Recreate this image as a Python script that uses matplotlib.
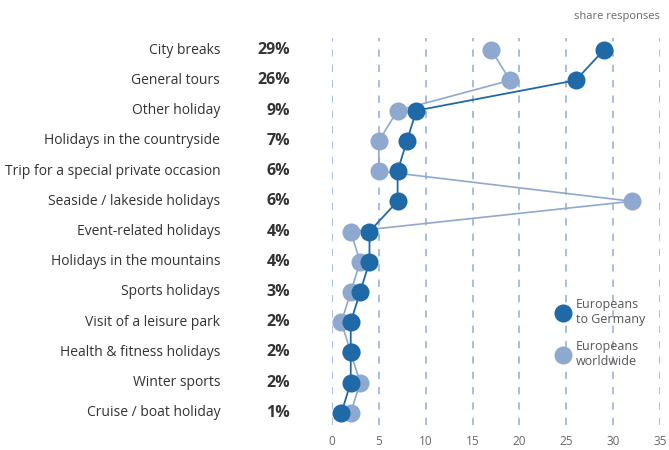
import matplotlib
matplotlib.use("Agg")
import matplotlib.pyplot as plt
from matplotlib.lines import Line2D
import matplotlib.transforms as mtransforms

plt.rcParams["font.family"] = ["Open Sans", "DejaVu Sans"]

categories = [
    "City breaks",
    "General tours",
    "Other holiday",
    "Holidays in the countryside",
    "Trip for a special private occasion",
    "Seaside / lakeside holidays",
    "Event-related holidays",
    "Holidays in the mountains",
    "Sports holidays",
    "Visit of a leisure park",
    "Health & fitness holidays",
    "Winter sports",
    "Cruise / boat holiday",
]
share_labels = ["29%", "26%", "9%", "7%", "6%", "6%", "4%", "4%", "3%", "2%", "2%", "2%", "1%"]
to_germany = [29, 26, 9, 8, 7, 7, 4, 4, 3, 2, 2, 2, 1]
worldwide = [17, 19, 7, 5, 5, 32, 2, 3, 2, 1, 2, 3, 2]
x_ticks = [0, 5, 10, 15, 20, 25, 30, 35]

DARK = "#1f69a6"
LIGHT = "#8fa8d0"
GRID = "#a3b8d8"
TEXT = "#333333"

fig = plt.figure(figsize=(6.69, 4.5), dpi=100)
ax = fig.add_axes([332 / 669, 1 - 425 / 450, 328 / 669, 387 / 450])

rows = list(range(len(categories)))

for t in x_ticks:
    ax.axvline(t, color=GRID, linewidth=1.3, linestyle=(0, (4, 4.5)), zorder=0)

ax.plot(worldwide, rows, color=LIGHT, linewidth=1.2, marker="o", markersize=13,
        markeredgewidth=0, zorder=2)
ax.plot(to_germany, rows, color=DARK, linewidth=1.3, marker="o", markersize=13,
        markeredgewidth=0, zorder=3)

ax.set_xlim(0, 35)
ax.set_ylim(len(categories) - 1 + 0.4, -0.4)
ax.set_xticks(x_ticks)
ax.set_yticks([])
ax.tick_params(axis="x", length=0, pad=7, labelsize=8.5, labelcolor="#666666")
for s in ax.spines.values():
    s.set_visible(False)

trans = mtransforms.blended_transform_factory(ax.transAxes, ax.transData)
for i, (cat, lab) in enumerate(zip(categories, share_labels)):
    ax.text(-0.341, i, cat, transform=trans, ha="right", va="center",
            fontsize=10, color=TEXT, clip_on=False)
    ax.text(-0.128, i, lab, transform=trans, ha="right", va="center",
            fontsize=11.5, fontweight="bold", color=TEXT, clip_on=False)

fig.text(660 / 669, 1 - 17 / 450, "share responses", ha="right", va="center",
         fontsize=8, color="#666666")

handles = [
    Line2D([], [], color=DARK, marker="o", markersize=13, linestyle="none",
           markeredgewidth=0, label="Europeans\nto Germany"),
    Line2D([], [], color=LIGHT, marker="o", markersize=13, linestyle="none",
           markeredgewidth=0, label="Europeans\nworldwide"),
]
leg = ax.legend(handles=handles, loc="upper left", bbox_to_anchor=(0.66, 0.34),
                frameon=False, fontsize=9, handletextpad=0.3, labelspacing=1.1,
                handlelength=1.5, borderaxespad=0)
for t in leg.get_texts():
    t.set_color("#555555")

fig.savefig("out.png", dpi=100)
